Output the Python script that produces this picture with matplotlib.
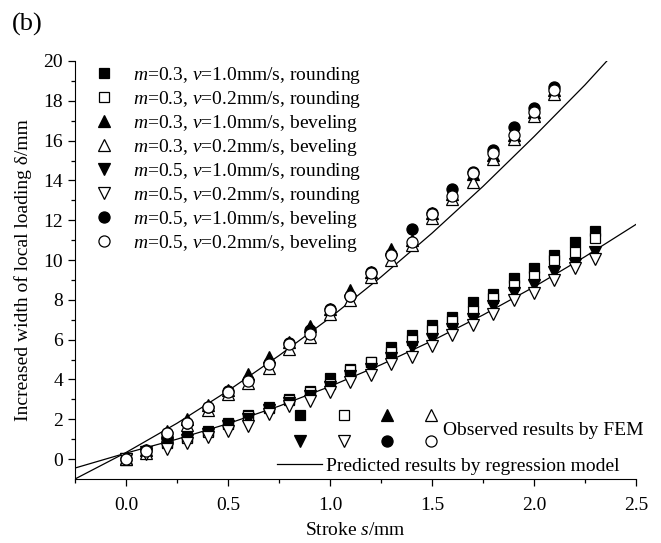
import matplotlib
matplotlib.use("Agg")
import matplotlib.pyplot as plt
from matplotlib.lines import Line2D

plt.rcParams['font.family'] = ['Liberation Serif', 'DejaVu Serif']
plt.rcParams['mathtext.fontset'] = 'custom'
plt.rcParams['mathtext.rm'] = 'Liberation Serif'
plt.rcParams['mathtext.it'] = 'Liberation Serif:italic'

# stroke values
s_bev = [0, 0.1, 0.2, 0.3, 0.4, 0.5, 0.6, 0.7, 0.8, 0.9, 1.0,
         1.1, 1.2, 1.3, 1.4, 1.5, 1.6, 1.7, 1.8, 1.9, 2.0, 2.1]
s_rnd = s_bev + [2.2, 2.3]

# rounding series
m03_v10_rnd = [0, 0.4, 0.85, 1.1, 1.4, 1.82, 2.2, 2.62, 3.0, 3.4, 4.08, 4.55,
               4.9, 5.62, 6.21, 6.72, 7.13, 7.89, 8.31, 9.1, 9.6, 10.24, 10.91, 11.47]
m03_v02_rnd = [0, 0.35, 0.8, 1.05, 1.35, 1.78, 2.15, 2.58, 2.95, 3.35, 3.78, 4.45,
               4.87, 5.4, 5.96, 6.47, 6.93, 7.42, 8.09, 8.73, 9.19, 9.99, 10.41, 11.11]
m05_v10_rnd = [0, 0.35, 0.75, 0.95, 1.25, 1.68, 2.0, 2.45, 2.8, 3.15, 3.64, 4.15,
               4.53, 5.09, 5.62, 6.05, 6.55, 7.05, 7.67, 8.34, 8.75, 9.4, 9.82, 10.41]
m05_v02_rnd = [0, 0.25, 0.5, 0.79, 1.09, 1.43, 1.68, 2.27, 2.68, 2.94, 3.36, 3.86,
               4.2, 4.79, 5.15, 5.66, 6.21, 6.75, 7.3, 7.97, 8.35, 8.98, 9.6, 10.04]

# beveling series
m03_v10_bev = [0, 0.45, 1.42, 2.0, 2.73, 3.45, 4.28, 5.12, 5.9, 6.68, 7.55,
               8.5, 9.4, 10.55, 11.0, 12.35, 13.3, 14.3, 15.3, 16.3, 17.45, 18.55]
m03_v02_bev = [0, 0.3, 1.15, 1.7, 2.45, 3.25, 3.8, 4.6, 5.55, 6.15, 7.3,
               8.0, 9.15, 9.99, 10.75, 12.09, 13.05, 13.93, 15.06, 16.1, 17.26, 18.35]
m05_v10_bev = [0, 0.45, 1.3, 1.8, 2.6, 3.4, 3.95, 4.85, 5.85, 6.5, 7.55,
               8.2, 9.4, 10.3, 11.54, 12.35, 13.55, 14.4, 15.53, 16.7, 17.63, 18.7]
m05_v02_bev = [0, 0.42, 1.29, 1.79, 2.6, 3.39, 3.94, 4.79, 5.79, 6.3, 7.47,
               8.18, 9.35, 10.24, 10.91, 12.31, 13.21, 14.36, 15.37, 16.29, 17.43, 18.55]

# regression curves
fit_s_bev = [-0.25, 0, 0.25, 0.5, 0.75, 1.0, 1.25, 1.5, 1.75, 2.0, 2.25, 2.5]
fit_bev = [-1.0, 0.33, 1.8, 3.43, 5.2, 7.1, 9.15, 11.35, 13.7, 16.2, 18.8, 21.6]
fit_s_rnd = [-0.25, 0, 0.25, 0.5, 0.75, 1.0, 1.25, 1.5, 1.75, 2.0, 2.25, 2.5]
fit_rnd = [-0.45, 0.3, 1.0, 1.78, 2.66, 3.65, 4.74, 5.94, 7.24, 8.65, 10.17, 11.79]

labels = [r'$m$=0.3, $v$=1.0mm/s, rounding',
          r'$m$=0.3, $v$=0.2mm/s, rounding',
          r'$m$=0.3, $v$=1.0mm/s, beveling',
          r'$m$=0.3, $v$=0.2mm/s, beveling',
          r'$m$=0.5, $v$=1.0mm/s, rounding',
          r'$m$=0.5, $v$=0.2mm/s, rounding',
          r'$m$=0.5, $v$=1.0mm/s, beveling',
          r'$m$=0.5, $v$=0.2mm/s, beveling']

series = [(s_rnd, m03_v10_rnd, 's', 'black', 7),
          (s_rnd, m03_v02_rnd, 's', 'white', 7),
          (s_bev, m03_v10_bev, '^', 'black', 8.5),
          (s_bev, m03_v02_bev, '^', 'white', 8.5),
          (s_rnd, m05_v10_rnd, 'v', 'black', 8.5),
          (s_rnd, m05_v02_rnd, 'v', 'white', 8.5),
          (s_bev, m05_v10_bev, 'o', 'black', 8),
          (s_bev, m05_v02_bev, 'o', 'white', 8)]

fig = plt.figure(figsize=(6.61, 5.43), dpi=100)
ax = fig.add_axes([0.1135, 0.1179, 0.8487, 0.7698])

ax.plot(fit_s_bev, fit_bev, color='black', lw=0.9, zorder=1)
ax.plot(fit_s_rnd, fit_rnd, color='black', lw=0.9, zorder=1)

handles = []
for i, (x, y, mk, fc, ms) in enumerate(series):
    h, = ax.plot(x, y, linestyle='none', marker=mk, markersize=ms,
                 markerfacecolor=fc, markeredgecolor='black',
                 markeredgewidth=0.9, zorder=2 + i)
    handles.append(h)

ax.set_xlim(-0.25, 2.5)
ax.set_ylim(-1, 20)
ax.set_xticks([0.0, 0.5, 1.0, 1.5, 2.0, 2.5])
ax.set_xticklabels(['0.0', '0.5', '1.0', '1.5', '2.0', '2.5'])
ax.set_xticks([-0.25, 0.25, 0.75, 1.25, 1.75, 2.25], minor=True)
ax.set_yticks(range(0, 21, 2))
ax.set_yticks(range(1, 20, 2), minor=True)
ax.spines['top'].set_visible(False)
ax.spines['right'].set_visible(False)
ax.tick_params(which='major', direction='out', length=5, width=0.9, labelsize=14)
ax.tick_params(which='minor', direction='out', length=3, width=0.9)
ax.tick_params(axis='x', pad=8)

ax.set_xlabel(r'Stroke $s$/mm', fontsize=14, labelpad=6)
ax.set_ylabel('Increased width of local loading δ/mm', fontsize=14, labelpad=8)

fig.text(0.018, 0.955, '(b)', fontsize=19, va='center', ha='left')

# upper-left legend with series labels
leg1 = ax.legend(handles, labels, loc='upper left', bbox_to_anchor=(0.035, 0.99),
                 frameon=False, fontsize=14, handlelength=1.0, handletextpad=0.95,
                 labelspacing=0.15, borderpad=0, borderaxespad=0)
ax.add_artist(leg1)

# lower marker grid for "Observed results by FEM"
grid_order = [0, 4, 1, 5, 2, 6, 3, 7]
leg2 = ax.legend([handles[i] for i in grid_order], [''] * 8, ncol=4,
                 loc='center', bbox_to_anchor=(0.518, 0.117), frameon=False,
                 fontsize=14, handlelength=1.0, handletextpad=0.0,
                 columnspacing=1.25, labelspacing=0.45, borderpad=0, borderaxespad=0)
ax.add_artist(leg2)
ax.text(0.656, 0.1156, 'Observed results by FEM', transform=ax.transAxes,
        fontsize=14, va='center', ha='left')

line_handle = Line2D([], [], color='black', lw=0.9)
leg3 = ax.legend([line_handle], ['Predicted results by regression model'],
                 loc='center left', bbox_to_anchor=(0.36, 0.031), frameon=False,
                 fontsize=14, handlelength=2.3, handletextpad=0.2,
                 borderpad=0, borderaxespad=0)

fig.savefig('out.png', dpi=100)
